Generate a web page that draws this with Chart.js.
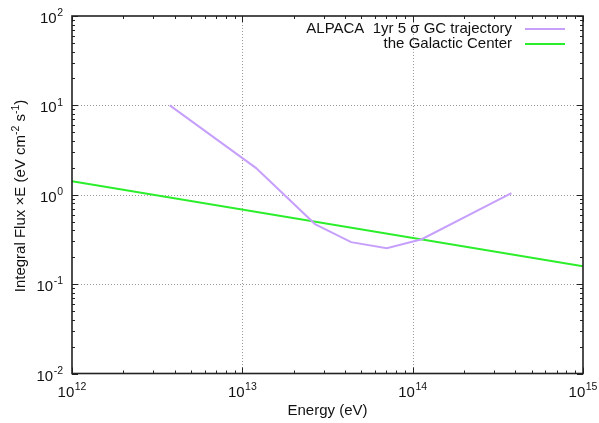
<!DOCTYPE html>
<html>
<head>
<meta charset="utf-8">
<script src="https://cdn.jsdelivr.net/npm/chart.js@4"></script>
<style>
  html, body { margin: 0; padding: 0; background: #fff; }
  #wrap { width: 599px; height: 423px; }
</style>
</head>
<body>
<div id="wrap"><canvas id="c" width="599" height="423"></canvas></div>
<script>
// ALPACA 1-year 5 sigma sensitivity curve for the Galactic Center trajectory
const alpacaEnergy = [3.75e12, 1.2e13, 2.67e13, 4.35e13, 7.05e13, 1.13e14, 3.8e14];
const alpacaFlux   = [10, 2.0, 0.47, 0.295, 0.252, 0.318, 1.04];

// Galactic Center integral flux x E
const gcEnergy = [1e12, 1e15];
const gcFlux   = [1.42, 0.158];

// Axis decades (exponents of ten)
const xDecades = [12, 13, 14, 15];
const yDecades = [-2, -1, 0, 1, 2];

const seriesNames = ['ALPACA  1yr 5 \u03c3 GC trajectory', 'the Galactic Center'];
const seriesColors = ['#c6a0fb', '#2aee2a'];

const FONT = '"Liberation Sans", Arial, Helvetica, sans-serif';

function toPoints(xs, ys) { return xs.map((x, i) => ({ x: x, y: ys[i] })); }

// Draw "base" followed by a raised exponent; align is 'right' or 'center'
function drawPow(ctx, base, exp, x, y, align, size, expSize) {
  ctx.font = size + 'px ' + FONT;
  const wb = ctx.measureText(base).width;
  ctx.font = expSize + 'px ' + FONT;
  const we = ctx.measureText(exp).width;
  const total = wb + we + 0.5;
  let x0 = align === 'right' ? x - total : x - total / 2;
  ctx.textAlign = 'left';
  ctx.textBaseline = 'alphabetic';
  ctx.font = size + 'px ' + FONT;
  ctx.fillText(base, x0, y);
  ctx.font = expSize + 'px ' + FONT;
  ctx.fillText(exp, x0 + wb + 0.5, y - size * 0.45);
}

const gnuFrame = {
  id: 'gnuFrame',
  beforeDatasetsDraw(chart) {
    const { ctx, chartArea: a, scales } = chart;
    ctx.save();
    ctx.strokeStyle = '#9a9a9a';
    ctx.lineWidth = 1;
    ctx.setLineDash([1, 2]);
    xDecades.forEach(d => {
      const px = Math.round(scales.x.getPixelForValue(Math.pow(10, d))) + 0.5;
      if (px <= a.left + 1 || px >= a.right - 1) return;
      ctx.beginPath(); ctx.moveTo(px, a.top); ctx.lineTo(px, a.bottom); ctx.stroke();
    });
    yDecades.forEach(d => {
      const py = Math.round(scales.y.getPixelForValue(Math.pow(10, d))) + 0.5;
      if (py <= a.top + 1 || py >= a.bottom - 1) return;
      ctx.beginPath(); ctx.moveTo(a.left, py); ctx.lineTo(a.right, py); ctx.stroke();
    });
    ctx.restore();
  },
  afterDatasetsDraw(chart) {
    const { ctx, chartArea: a, scales } = chart;
    ctx.save();
    ctx.setLineDash([]);
    ctx.strokeStyle = '#222';
    ctx.fillStyle = '#222';

    // inward ticks on all four sides
    ctx.lineWidth = 1;
    const major = 6, minor = 3;
    for (let i = 0; i < xDecades.length; i++) {
      const d = xDecades[i];
      for (let m = 1; m <= 9; m++) {
        if (i === xDecades.length - 1 && m > 1) break;
        const px = Math.round(scales.x.getPixelForValue(m * Math.pow(10, d))) + 0.5;
        const len = m === 1 ? major : minor;
        ctx.beginPath();
        ctx.moveTo(px, a.bottom); ctx.lineTo(px, a.bottom - len);
        ctx.moveTo(px, a.top); ctx.lineTo(px, a.top + len);
        ctx.stroke();
      }
    }
    for (let i = 0; i < yDecades.length; i++) {
      const d = yDecades[i];
      for (let m = 1; m <= 9; m++) {
        if (i === yDecades.length - 1 && m > 1) break;
        const py = Math.round(scales.y.getPixelForValue(m * Math.pow(10, d))) + 0.5;
        const len = m === 1 ? major : minor;
        ctx.beginPath();
        ctx.moveTo(a.left, py); ctx.lineTo(a.left + len, py);
        ctx.moveTo(a.right, py); ctx.lineTo(a.right - len, py);
        ctx.stroke();
      }
    }

    // frame
    ctx.lineWidth = 1.6;
    ctx.strokeRect(a.left, a.top, a.right - a.left, a.bottom - a.top);

    // tick labels
    ctx.fillStyle = '#111';
    yDecades.forEach(d => {
      const py = scales.y.getPixelForValue(Math.pow(10, d));
      drawPow(ctx, '10', String(d), a.left - 9, py + 7, 'right', 15, 10.5);
    });
    xDecades.forEach(d => {
      const px = scales.x.getPixelForValue(Math.pow(10, d));
      drawPow(ctx, '10', String(d), px, a.bottom + 23, 'center', 15, 10.5);
    });

    // axis titles
    ctx.font = '15px ' + FONT;
    ctx.textAlign = 'center';
    ctx.textBaseline = 'alphabetic';
    ctx.fillText('Energy (eV)', (a.left + a.right) / 2, 415);

    // rotated y title with superscripts
    ctx.save();
    ctx.translate(25, 196);
    ctx.rotate(-Math.PI / 2);
    const parts = [
      ['Integral Flux \u00d7E (eV cm', false],
      ['-2', true],
      [' s', false],
      ['-1', true],
      [')', false]
    ];
    let total = 0;
    parts.forEach(p => {
      ctx.font = (p[1] ? 10.5 : 15) + 'px ' + FONT;
      total += ctx.measureText(p[0]).width;
    });
    let x = -total / 2;
    ctx.textAlign = 'left';
    parts.forEach(p => {
      ctx.font = (p[1] ? 10.5 : 15) + 'px ' + FONT;
      ctx.fillText(p[0], x, p[1] ? -6.5 : 0);
      x += ctx.measureText(p[0]).width;
    });
    ctx.restore();

    // legend: right-aligned text with line sample to its right
    ctx.font = '15px ' + FONT;
    ctx.textAlign = 'right';
    ctx.textBaseline = 'middle';
    const legY = [29, 44];
    seriesNames.forEach((name, i) => {
      ctx.fillStyle = '#111';
      ctx.fillText(name, 512, legY[i]);
      ctx.strokeStyle = seriesColors[i];
      ctx.lineWidth = 2;
      ctx.beginPath();
      ctx.moveTo(525, legY[i]); ctx.lineTo(565, legY[i]);
      ctx.stroke();
    });
    ctx.restore();
  }
};

new Chart(document.getElementById('c'), {
  type: 'scatter',
  data: {
    datasets: [
      {
        label: seriesNames[0],
        data: toPoints(alpacaEnergy, alpacaFlux),
        showLine: true,
        borderColor: seriesColors[0],
        borderWidth: 2,
        pointRadius: 0,
        tension: 0
      },
      {
        label: seriesNames[1],
        data: toPoints(gcEnergy, gcFlux),
        showLine: true,
        borderColor: seriesColors[1],
        borderWidth: 2,
        pointRadius: 0,
        tension: 0
      }
    ]
  },
  options: {
    responsive: false,
    animation: false,
    layout: { padding: { top: 16, right: 16, left: 0, bottom: 0 } },
    plugins: { legend: { display: false }, tooltip: { enabled: false } },
    scales: {
      x: {
        type: 'logarithmic',
        min: 1e12, max: 1e15,
        grid: { display: false },
        border: { display: false },
        ticks: { display: false },
        afterFit(scale) { scale.height = 49.5; }
      },
      y: {
        type: 'logarithmic',
        min: 1e-2, max: 1e2,
        grid: { display: false },
        border: { display: false },
        ticks: { display: false },
        afterFit(scale) { scale.width = 72; }
      }
    }
  },
  plugins: [gnuFrame]
});
</script>
</body>
</html>
